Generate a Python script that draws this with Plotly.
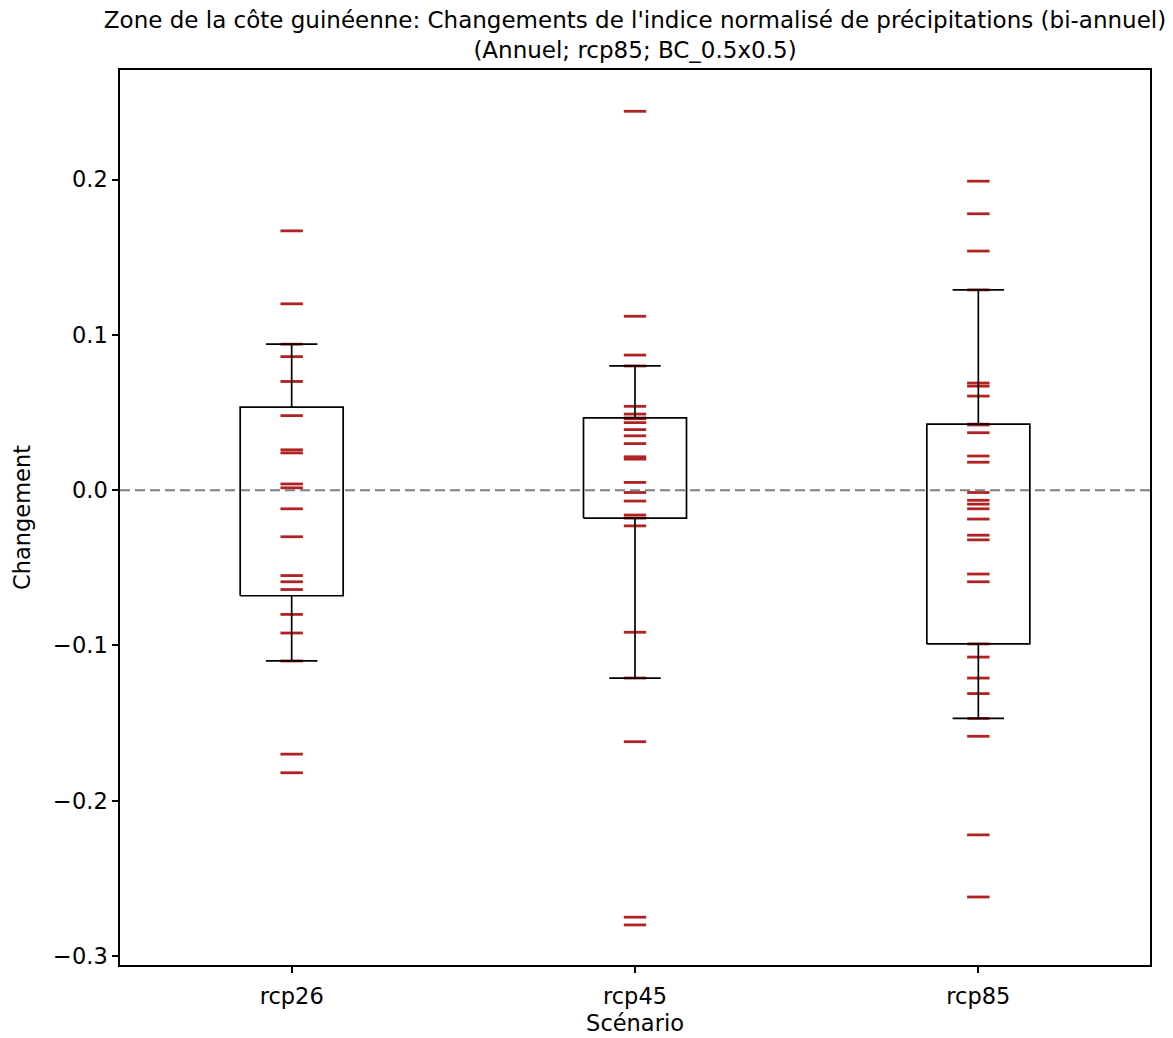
import numpy as np
import plotly.graph_objects as go

# ---- data ----
scenarios = ["rcp26", "rcp45", "rcp85"]
rcp26 = [0.167, 0.120, 0.094, 0.086, 0.070, 0.048, 0.026, 0.024, 0.004, 0.0015,
         -0.012, -0.030, -0.055, -0.059, -0.064, -0.080, -0.092, -0.110, -0.170, -0.182]
rcp45 = [0.244, 0.112, 0.087, 0.080, 0.054, 0.049, 0.0465, 0.046, 0.0435, 0.039,
         0.035, 0.030, 0.0215, 0.020, 0.005, -0.0015, -0.007, -0.016, -0.018, -0.023,
         -0.0915, -0.121, -0.162, -0.275, -0.280]
rcp85 = [0.199, 0.178, 0.154, 0.129, 0.069, 0.067, 0.0606, 0.0425, 0.042, 0.037,
         0.022, 0.018, -0.0015, -0.0065, -0.009, -0.012, -0.0186, -0.029, -0.032,
         -0.054, -0.059, -0.099, -0.1075, -0.121, -0.131, -0.147, -0.1585, -0.222, -0.262]
series = [rcp26, rcp45, rcp85]
ytick_vals = [-0.3, -0.2, -0.1, 0.0, 0.1, 0.2]
ytick_text = ["\u22120.3", "\u22120.2", "\u22120.1", "0.0", "0.1", "0.2"]

title_text = ("Zone de la côte guinéenne: Changements de l'indice normalisé de précipitations (bi-annuel)"
              "<br>(Annuel; rcp85; BC_0.5x0.5)")

FONT = "DejaVu Sans"
FS = 22.5
FT = 23
fig = go.Figure()

BOX_W = 0.3
CAP_W = 0.15
RED = "#b22222"

# markers (each model value)
for i, vals in enumerate(series):
    pos = i + 1
    fig.add_trace(go.Scatter(
        x=[pos] * len(vals), y=vals, mode="markers",
        marker=dict(symbol="line-ew", size=16, color=RED,
                    line=dict(color=RED, width=2.8)),
        showlegend=False, hoverinfo="y"))

# zero dashed line
fig.add_trace(go.Scatter(x=[0.5, 3.5], y=[0, 0], mode="lines",
                         line=dict(color="#7f7f7f", width=2, dash="10px,5px"),
                         showlegend=False, hoverinfo="skip"))

# boxes (quartiles, whiskers at 10/90 percentiles snapped to data)
for i, vals in enumerate(series):
    pos = i + 1
    a = np.array(vals)
    q1, q3 = np.percentile(a, [25, 75])
    lo, hi = np.percentile(a, [10, 90])
    wlo = a[a >= lo].min()
    whi = a[a <= hi].max()
    xs, ys = [], []
    xs += [pos - BOX_W / 2, pos + BOX_W / 2, pos + BOX_W / 2, pos - BOX_W / 2, pos - BOX_W / 2, None]
    ys += [q1, q1, q3, q3, q1, None]
    xs += [pos, pos, None, pos, pos, None]
    ys += [q3, whi, None, q1, wlo, None]
    xs += [pos - CAP_W / 2, pos + CAP_W / 2, None, pos - CAP_W / 2, pos + CAP_W / 2]
    ys += [whi, whi, None, wlo, wlo]
    fig.add_trace(go.Scatter(x=xs, y=ys, mode="lines",
                             line=dict(color="black", width=1.7),
                             showlegend=False, hoverinfo="skip"))

fig.update_layout(
    width=1173, height=1038,
    margin=dict(l=112, r=31, t=62, b=81),
    paper_bgcolor="white", plot_bgcolor="white",
    font=dict(family=FONT, size=FS, color="black"),
    title=dict(text=title_text, x=0.5, xref="paper", xanchor="center",
               y=0.981, yref="container", yanchor="top", pad=dict(t=0),
               font=dict(family=FONT, size=FT, color="black")),
    xaxis=dict(range=[0.5, 3.5], tickvals=[1, 2, 3], ticktext=scenarios,
               showgrid=False, zeroline=False, showline=True, mirror=True,
               linecolor="black", linewidth=1.5, ticks="outside", ticklen=6,
               tickwidth=1.5, tickcolor="black", ticklabelstandoff=4,
               title=dict(text="Scénario", standoff=7, font=dict(size=FS)),
               tickfont=dict(size=FS)),
    yaxis=dict(range=[-0.3058, 0.2706], tickvals=ytick_vals, ticktext=ytick_text,
               showgrid=False, zeroline=False, showline=True, mirror=True,
               linecolor="black", linewidth=1.5, ticks="outside", ticklen=6,
               tickwidth=1.5, tickcolor="black",
               title=dict(text="Changement", standoff=16, font=dict(size=FS)),
               tickfont=dict(size=FS)),
)

fig.write_html("out.html")
